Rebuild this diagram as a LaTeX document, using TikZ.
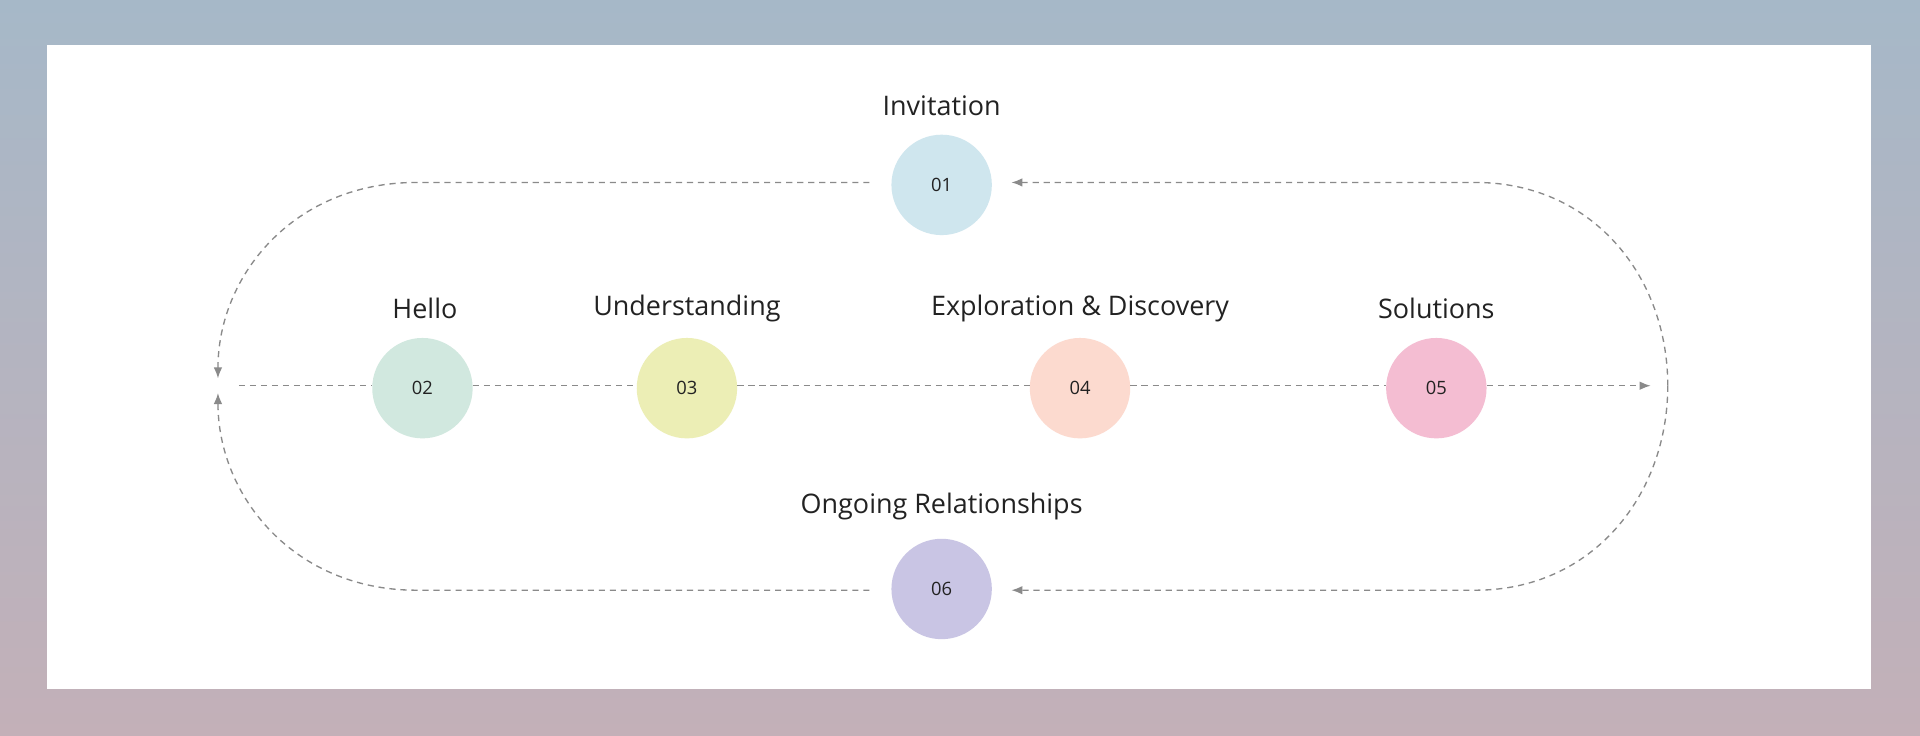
\documentclass[tikz,border=0pt]{standalone}
\usepackage{fontspec}
\setmainfont{Open Sans}
\usetikzlibrary{arrows.meta}
\definecolor{bgtop}{HTML}{A6B8C8}
\definecolor{bgbot}{HTML}{C3B0B8}
\definecolor{c1}{HTML}{CFE6EE}
\definecolor{c2}{HTML}{D1E8DF}
\definecolor{c3}{HTML}{ECEEB5}
\definecolor{c4}{HTML}{FCDACF}
\definecolor{c5}{HTML}{F4BDD2}
\definecolor{c6}{HTML}{C9C5E4}
\definecolor{ln}{HTML}{8A8A8A}
\definecolor{tx}{HTML}{222222}
\begin{document}
\begin{tikzpicture}[x=1pt,y=-1pt,
  stepc/.style={circle,minimum size=82pt,inner sep=0pt,text=tx,font=\fontsize{15}{18}\selectfont},
  lbl/.style={text=tx,font=\fontsize{22}{26}\selectfont},
  conn/.style={draw=ln,line width=1.1pt,dash pattern=on 5pt off 4pt},
  arr/.style={conn,-{Latex[length=9pt,width=7pt]}}]
\shade[top color=bgtop,bottom color=bgbot] (0,0) rectangle (1568,601);
\useasboundingbox (0,0) rectangle (1568,601);
\fill[white] (38,37) rectangle (1528,563);
\node[stepc,fill=c1] (n1) at (769,151) {01};
\node[stepc,fill=c2] (n2) at (345,317) {02};
\node[stepc,fill=c3] (n3) at (561,317) {03};
\node[stepc,fill=c4] (n4) at (882,317) {04};
\node[stepc,fill=c5] (n5) at (1173,317) {05};
\node[stepc,fill=c6] (n6) at (769,481) {06};
\node[lbl] (l1) at (769,86) {Invitation};
\node[lbl] (l2) at (347,252) {Hello};
\node[lbl] (l3) at (561,252) {Understanding};
\node[lbl] (l4) at (882,252) {Exploration \& Discovery};
\node[lbl] (l5) at (1173,252) {Solutions};
\node[lbl] (l6) at (769,414) {Ongoing Relationships};
\coordinate (ms) at (195,315);
\coordinate (me) at (1348,315);
\coordinate (ls1) at (710,149);
\coordinate (le1) at (178,309);
\coordinate (ls2) at (710,482);
\coordinate (le2) at (178,321);
\coordinate (rt) at (1362,315);
\coordinate (a1) at (826,149);
\coordinate (a6) at (826,482);
\draw[conn] (ms) -- (n2.west|-ms);
\draw[conn] (n2.east|-ms) -- (n3.west|-ms);
\draw[conn] (n3.east|-ms) -- (n4.west|-ms);
\draw[conn] (n4.east|-ms) -- (n5.west|-ms);
\draw[arr] (n5.east|-ms) -- (me);
\draw[arr] (ls1) -- (340,149) .. controls (240,149) and (178,225) .. (le1);
\draw[arr] (ls2) -- (340,482) .. controls (240,482) and (178,405) .. (le2);
\draw[arr] (rt) .. controls (1362,225) and (1300,149) .. (1205,149) -- (a1);
\draw[arr] (rt) .. controls (1362,405) and (1300,482) .. (1205,482) -- (a6);
\end{tikzpicture}
\end{document}
